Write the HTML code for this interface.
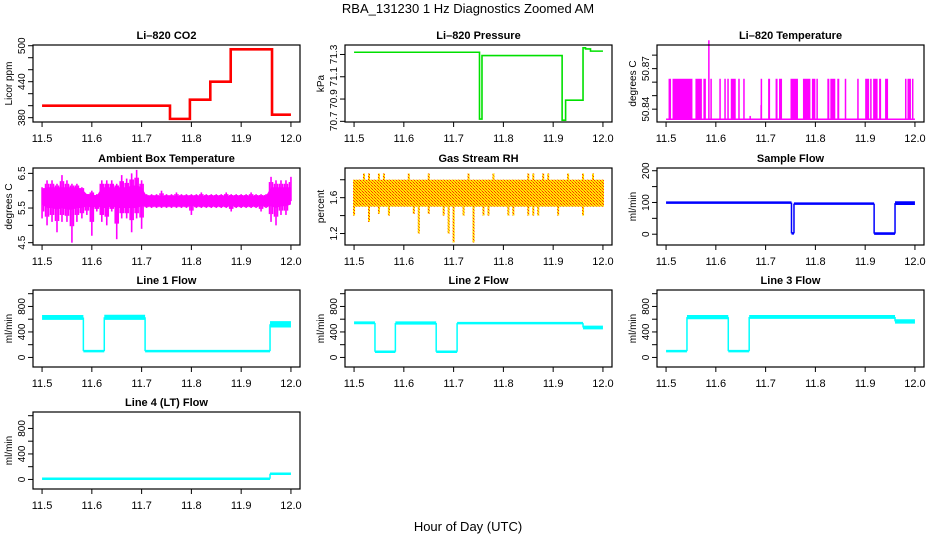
<!DOCTYPE html>
<html><head><meta charset="utf-8"><title>RBA_131230 1 Hz Diagnostics Zoomed AM</title>
<style>
html,body{margin:0;padding:0;background:#fff;}
svg{display:block;font-family:"Liberation Sans",sans-serif;}
</style></head>
<body>
<svg id="chart" width="936" height="540" viewBox="0 0 936 540" xmlns="http://www.w3.org/2000/svg">
<defs>
<pattern id="rhpat" width="3" height="3" patternUnits="userSpaceOnUse">
<rect width="3" height="3" fill="#ffe800"/><rect width="1" height="1" fill="#ff3000"/><rect x="1" y="1" width="1" height="1" fill="#ff8000"/><rect x="2" y="2" width="1" height="1" fill="#ff3000"/>
</pattern>
</defs>
<text x="468" y="13" text-anchor="middle" font-size="13">RBA_131230  1 Hz Diagnostics Zoomed AM</text>
<text x="468" y="531" text-anchor="middle" font-size="13">Hour of Day (UTC)</text>
</svg>
<script>
// ---- data ----
const xTickValues=[11.5,11.6,11.7,11.8,11.9,12.0];
const xTickLabels=["11.5","11.6","11.7","11.8","11.9","12.0"];

const co2Times=[11.5,11.757,11.797,11.838,11.879,11.962,12.0];
const co2Vals=[400,378,410,440,494,385];

const presTimes=[11.5,11.752,11.757,11.918,11.925,11.96,11.965,11.975,12.0];
const presVals=[71.32,70.72,71.29,70.71,70.89,71.36,71.35,71.33];

const tempBase=50.8325;
const tempHigh=50.8625;
const tempPulseStart=[11.505,11.513,11.559,11.575,11.589,11.607,11.617,11.623,11.63,11.645,11.655,11.69,11.705,11.72,11.727,11.75,11.775,11.793,11.802,11.824,11.83,11.844,11.859,11.884,11.9,11.91,11.916,11.928,11.94,11.98,11.985,11.994];
const tempPulseEnd=[11.51,11.553,11.572,11.58,11.592,11.61,11.62,11.626,11.64,11.648,11.657,11.692,11.709,11.724,11.733,11.765,11.79,11.8,11.805,11.828,11.84,11.848,11.862,11.886,11.908,11.913,11.925,11.932,11.946,11.983,11.992,11.996];
const tempSpikeTimes=[11.586,11.669,11.691];
const tempSpikeVals=[50.891,50.835,50.843];

const ambHi=[6.1,6.3,6.3,6.2,6.45,6.3,6.2,6.2,6.1,5.9,6.0,5.9,6.3,6.3,6.3,6.2,6.45,6.35,6.5,6.6,6.3,
5.9,5.9,5.9,6.0,5.9,5.9,5.95,5.9,5.9,5.9,5.9,5.95,5.9,5.9,5.9,5.9,5.95,5.9,5.9,5.9,5.9,5.95,5.9,5.9,5.9,
6.4,6.3,6.3,6.3,6.4];
const ambLo=[5.2,5.0,5.1,4.8,5.1,5.1,4.5,5.1,5.2,5.3,4.7,5.4,5.1,5.0,5.4,4.6,5.2,5.2,4.8,5.2,4.9,
5.5,5.5,5.5,5.5,5.5,5.5,5.5,5.5,5.5,5.3,5.5,5.5,5.5,5.5,5.5,5.5,5.5,5.4,5.5,5.5,5.5,5.5,5.5,5.4,5.5,
5.1,5.0,5.3,5.3,5.7];
const ambCoreHi=[6.05,6.1,6.1,6.1,6.1,6.1,6.1,6.1,6.05,5.9,5.9,5.85,6.1,6.1,6.1,6.1,6.1,6.1,6.15,6.15,6.1,
5.85,5.85,5.85,5.85,5.85,5.85,5.85,5.85,5.85,5.85,5.85,5.85,5.85,5.85,5.85,5.85,5.85,5.85,5.85,5.85,5.85,5.85,5.85,5.85,5.85,
6.1,6.1,6.1,6.1,6.1];
const ambCoreLo=[5.6,5.5,5.5,5.45,5.5,5.45,5.45,5.5,5.5,5.55,5.5,5.55,5.5,5.5,5.55,5.5,5.5,5.5,5.5,5.5,5.55,
5.55,5.55,5.55,5.55,5.55,5.55,5.55,5.55,5.55,5.55,5.55,5.55,5.55,5.55,5.55,5.55,5.55,5.55,5.55,5.55,5.55,5.55,5.55,5.55,5.55,
5.55,5.5,5.55,5.55,5.6];

const rhHi=[1.8,1.8,1.87,1.87,1.8,1.87,1.87,1.8,1.8,1.8,1.8,1.87,1.8,1.8,1.8,1.87,1.8,1.8,1.8,1.8,1.8,
1.8,1.8,1.87,1.8,1.8,1.8,1.8,1.87,1.8,1.8,1.8,1.8,1.8,1.8,1.87,1.87,1.8,1.87,1.87,1.8,1.8,1.8,1.87,1.8,1.8,
1.87,1.8,1.87,1.8,1.8];
const rhLo=[1.4,1.5,1.5,1.33,1.5,1.42,1.5,1.4,1.5,1.5,1.5,1.5,1.42,1.2,1.5,1.42,1.5,1.5,1.4,1.2,1.1,
1.5,1.4,1.5,1.1,1.5,1.4,1.4,1.5,1.5,1.5,1.4,1.4,1.5,1.5,1.4,1.4,1.4,1.5,1.5,1.5,1.4,1.5,1.5,1.5,1.5,
1.4,1.5,1.5,1.5,1.5];
const rhCoreHi=1.8;
const rhCoreLo=1.5;

const sfTimes=[11.5,11.752,11.757,11.918,11.96,12.0];
const sfLo=[96,0,93,-2,92];
const sfHi=[103,5,100,6,104];

const l1Times=[11.5,11.583,11.625,11.707,11.958,12.0];
const l1Lo=[590,95,590,95,470];
const l1Hi=[665,105,670,105,570];
const l2Times=[11.5,11.542,11.583,11.665,11.707,11.96,12.0];
const l2Lo=[520,85,515,85,520,440];
const l2Hi=[565,95,565,95,555,500];
const l3Times=[11.5,11.542,11.625,11.667,11.96,12.0];
const l3Lo=[95,600,95,605,530];
const l3Hi=[105,665,105,665,600];
const l4Times=[11.5,11.958,12.0];
const l4Lo=[0,80];
const l4Hi=[20,100];

const flowTicks=[0,200,400,600,800,1000];
const flowLabels=[0,400,800];

// ---- layout ----
const NS="http://www.w3.org/2000/svg";
const svg=document.getElementById('chart');
const COLS=[33,345,657], W=267, TOPS=[45,168,290,412], H=77;
const XMIN=11.4818, XMAX=12.0182;

function el(tag,attrs,parent){const e=document.createElementNS(NS,tag);for(const k in attrs)e.setAttribute(k,attrs[k]);parent.appendChild(e);return e;}

function makePanel(key,col,row,ylo,yhi,yticks,ylabels,title,ytitle){
  const L=COLS[col],T=TOPS[row];
  const g=el('g',{},svg);
  
  
  const x=t=>L+(t-XMIN)/(XMAX-XMIN)*W;
  const y=v=>T+(yhi-v)/(yhi-ylo)*H;
  const plot=el('g',{},g);
  
  
  const tt=el('text',{x:L+W/2,y:T-6,'text-anchor':'middle','font-size':'11','font-weight':'bold'},g);
  tt.textContent=title;
  
  
  const yt=el('text',{x:0,y:0,'text-anchor':'middle','font-size':'10',transform:`translate(${L-21},${T+H/2}) rotate(-90)`},g);
  yt.textContent=ytitle;
  
  
  const xa=el('g',{stroke:'#000','stroke-width':'1'},g);
  
  
  el('line',{x1:x(xTickValues[0]),x2:x(xTickValues[xTickValues.length-1]),y1:T+H,y2:T+H},xa);
  xTickValues.forEach((v,i)=>{
    el('line',{x1:x(v),x2:x(v),y1:T+H,y2:T+H+5},xa);
    const lb=el('text',{x:x(v),y:T+H+20,'text-anchor':'middle','font-size':'11',stroke:'none',fill:'#000'},xa);
    lb.textContent=xTickLabels[i];
    
    
  });
  const ya=el('g',{stroke:'#000','stroke-width':'1'},g);
  
  
  el('line',{x1:L,x2:L,y1:y(yticks[0]),y2:y(yticks[yticks.length-1])},ya);
  yticks.forEach(v=>{el('line',{x1:L-5,x2:L,y1:y(v),y2:y(v)},ya);});
  ylabels.forEach(v=>{
    const lb=el('text',{x:0,y:0,'text-anchor':'middle','font-size':'10',stroke:'none',fill:'#000',transform:`translate(${L-8},${y(v)}) rotate(-90)`},ya);
    lb.textContent=String(v);
    
    
  });
  return {g,plot,x,y,L,T,box:()=>{const b=el('rect',{x:L,y:T,width:W,height:H,fill:'none',stroke:'#000','stroke-width':'1.2'},g);}};
}

function stepLine(p,times,vals,color,w,name){
  let d=`M${p.x(times[0])},${p.y(vals[0])}`;
  for(let i=0;i<vals.length;i++){
    if(i>0)d+=` V${p.y(vals[i])}`;
    d+=` H${p.x(times[i+1])}`;
  }
  const e=el('path',{d,fill:'none',stroke:color,'stroke-width':w},p.plot);
  
  
}
function bandSteps(p,times,lo,hi,color,name){
  let d='';
  for(let i=0;i<lo.length;i++){
    const x1=p.x(times[i]),x2=p.x(times[i+1]);
    let ya=p.y(hi[i]),yb=p.y(lo[i]);
    if(yb-ya<2.5){const m=(ya+yb)/2;ya=m-1.25;yb=m+1.25;}
    d+=`M${x1},${ya}H${x2}V${yb}H${x1}Z`;
    if(i<lo.length-1){
      const ym1=p.y((lo[i]+hi[i])/2),ym2=p.y((lo[i+1]+hi[i+1])/2);
      d+=`M${x2-0.75},${Math.min(ym1,ym2)}h1.5V${Math.max(ym1,ym2)}h-1.5Z`;
    }
  }
  const e=el('path',{d,fill:color},p.plot);
  
  
}
function binTime(i){return 11.5+i*0.01;}

// Row 1
const p1=makePanel('co2',0,0,372.8,501.2,[380,400,420,440,460,480,500],[380,440,500],'Li\u2013820 CO2','Licor ppm');
stepLine(p1,co2Times,co2Vals,'#ff0000',2.6,'co2-line');p1.box();

const p2=makePanel('pressure',1,0,70.694,71.385,[70.7,70.9,71.1,71.3],[71.3,71.1,70.9,70.7],'Li\u2013820 Pressure','kPa');
stepLine(p2,presTimes,presVals,'#00e000',1.6,'pressure-line');p2.box();

const p3=makePanel('temperature',2,0,50.8305,50.8875,[50.84,50.85,50.86,50.87,50.88],[50.84,50.87],'Li\u2013820 Temperature','degrees C');
{
  const base=el('line',{x1:p3.x(11.5),x2:p3.x(12.0),y1:p3.y(tempBase),y2:p3.y(tempBase),stroke:'#ff00ff','stroke-width':'1.5'},p3.plot);
  
  
  tempPulseStart.forEach((s,i)=>{
    const r=el('rect',{x:p3.x(s),y:p3.y(tempHigh),width:Math.max(1.5,p3.x(tempPulseEnd[i])-p3.x(s)),height:p3.y(tempBase)-p3.y(tempHigh),fill:'#ff00ff'},p3.plot);
    
    
  });
  tempSpikeTimes.forEach((t,i)=>{
    const l=el('line',{x1:p3.x(t),x2:p3.x(t),y1:p3.y(tempBase),y2:p3.y(tempSpikeVals[i]),stroke:'#ff00ff','stroke-width':'1.5'},p3.plot);
    
    
  });
}
p3.box();

// Row 2
const p4=makePanel('ambient',0,1,4.433,6.655,[4.5,5.0,5.5,6.0,6.5],[4.5,5.5,6.5],'Ambient Box Temperature','degrees C');
{
  let up='',dn='';
  ambCoreHi.forEach((v,i)=>{up+=(i?'L':'M')+p4.x(binTime(i))+','+p4.y(v);});
  for(let i=ambCoreLo.length-1;i>=0;i--)dn+='L'+p4.x(binTime(i))+','+p4.y(ambCoreLo[i]);
  const c=el('path',{d:up+dn+'Z',fill:'#ff00ff'},p4.plot);
  
  
  ambHi.forEach((v,i)=>{
    for(const off of [-0.003,0,0.003]){
      if(binTime(i)+off<11.5||binTime(i)+off>12.0)continue;
      const l=el('line',{x1:p4.x(binTime(i)+off),x2:p4.x(binTime(i)+off),y1:p4.y(off===0?v:(v+ambCoreHi[i])/2),y2:p4.y(off===0?ambLo[i]:(ambLo[i]+ambCoreLo[i])/2),stroke:'#ff00ff','stroke-width':'1.6'},p4.plot);
      
      
    }
  });
}
p4.box();

const p5=makePanel('rh',1,1,1.072,1.931,[1.2,1.4,1.6,1.8],[1.2,1.6],'Gas Stream RH','percent');
{
  const c=el('rect',{x:p5.x(11.5),y:p5.y(rhCoreHi),width:p5.x(12.0)-p5.x(11.5),height:p5.y(rhCoreLo)-p5.y(rhCoreHi),fill:'url(#rhpat)'},p5.plot);
  
  
  rhHi.forEach((v,i)=>{
    const l=el('rect',{x:p5.x(binTime(i))-1,y:p5.y(v),width:2,height:p5.y(rhLo[i])-p5.y(v),fill:'url(#rhpat)'},p5.plot);
    
    
  });
}
p5.box();

const p6=makePanel('sample-flow',2,1,-34,208.6,[0,50,100,150,200],[0,100,200],'Sample Flow','ml/min');
bandSteps(p6,sfTimes,sfLo,sfHi,'#0000ff','sample-flow-line');p6.box();

// Row 3
const p7=makePanel('line1',0,2,-150,1058,flowTicks,flowLabels,'Line 1 Flow','ml/min');
bandSteps(p7,l1Times,l1Lo,l1Hi,'#00ffff','line1-flow-line');p7.box();
const p8=makePanel('line2',1,2,-150,1058,flowTicks,flowLabels,'Line 2 Flow','ml/min');
bandSteps(p8,l2Times,l2Lo,l2Hi,'#00ffff','line2-flow-line');p8.box();
const p9=makePanel('line3',2,2,-150,1058,flowTicks,flowLabels,'Line 3 Flow','ml/min');
bandSteps(p9,l3Times,l3Lo,l3Hi,'#00ffff','line3-flow-line');p9.box();

// Row 4
const p10=makePanel('line4',0,3,-150,1058,flowTicks,flowLabels,'Line 4 (LT) Flow','ml/min');
bandSteps(p10,l4Times,l4Lo,l4Hi,'#00ffff','line4-flow-line');p10.box();
</script>
</body></html>
